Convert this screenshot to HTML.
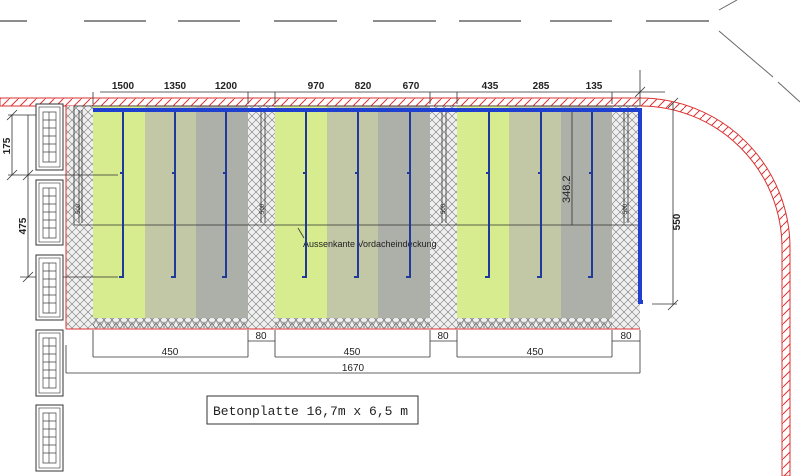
<!DOCTYPE html>
<html><head><meta charset="utf-8"><style>
html,body{margin:0;padding:0;background:#fff;width:800px;height:476px;overflow:hidden}
text{font-family:"Liberation Sans",sans-serif;fill:#222}
</style></head><body>
<svg width="800" height="476" viewBox="0 0 800 476" xmlns="http://www.w3.org/2000/svg">
<defs>
<pattern id="x" width="8" height="8" patternUnits="userSpaceOnUse">
<rect width="8" height="8" fill="#f0f0f0"/>
<path d="M0 0L8 8M8 0L0 8" stroke="#777" stroke-width="0.6"/>
</pattern>
<pattern id="rh" width="9" height="9" patternUnits="userSpaceOnUse">
<path d="M0 9L9 0" stroke="#d33" stroke-width="1"/>
</pattern>
<pattern id="zz" width="8" height="10" patternUnits="userSpaceOnUse">
<path d="M0 0L4 8L8 0M0 10L4 2L8 10" stroke="#777" stroke-width="0.6" fill="none"/>
</pattern>
</defs>
<g stroke="#666" stroke-width="1.5">
<path d="M0 21H27M84 21H146M178 21H240M274 21H337M373 21H436M459 21H521M550 21H612M646 21H709"/>
<path d="M719 10L737 0M719 31L773 77M778 82L800 102" stroke-width="1"/>
</g>
<path d="M0 98H640A150 150 0 0 1 790 248V476H782V248A142 142 0 0 0 640 106H0Z" fill="url(#rh)" stroke="#d33" stroke-width="1"/>
<rect x="66" y="106" width="574" height="223" fill="url(#x)"/>
<g>
<rect x="93" y="106" width="52" height="212" fill="#d6ec8e"/>
<rect x="145" y="106" width="51" height="212" fill="#c2c7a6"/>
<rect x="196" y="106" width="52" height="212" fill="#adafa9"/>
<rect x="275" y="106" width="52" height="212" fill="#d6ec8e"/>
<rect x="327" y="106" width="51" height="212" fill="#c2c7a6"/>
<rect x="378" y="106" width="52" height="212" fill="#adafa9"/>
<rect x="457" y="106" width="52" height="212" fill="#d6ec8e"/>
<rect x="509" y="106" width="52" height="212" fill="#c2c7a6"/>
<rect x="561" y="106" width="51" height="212" fill="#adafa9"/>
</g>
<rect x="93" y="318" width="155" height="10" fill="url(#zz)"/>
<rect x="275" y="318" width="155" height="10" fill="url(#zz)"/>
<rect x="457" y="318" width="155" height="10" fill="url(#zz)"/>
<path d="M66 329H640M66 106V329" stroke="#d33" stroke-width="1" fill="none"/>
<g stroke="#333" stroke-width="0.8" fill="none">
<path d="M74 106V225H640M74 106H640"/>
<path d="M79 110V223M82 110V223M261 110V223M265 110V223M442 110V223M446 110V223M624 110V223M628 110V223"/>
<path d="M572 110V225"/>
<path d="M298 228L304 238"/>
</g>
<g font-size="6">
<text transform="translate(80 214) rotate(-90)">500</text>
<text transform="translate(264 214) rotate(-90)">500</text>
<text transform="translate(445 214) rotate(-90)">500</text>
<text transform="translate(627 214) rotate(-90)">500</text>
</g>
<text transform="translate(570 203) rotate(-90)" font-size="11">348.2</text>
<text x="303" y="247" font-size="9">Aussenkante Vordacheindeckung</text>
<path d="M93 110H640V302H643" stroke="#1f3fd0" stroke-width="4" fill="none"/>
<g stroke="#1f3a9a" stroke-width="2" fill="none">
<path d="M123 112V277H119M120 173H123"/>
<path d="M175 112V277H171M172 173H175"/>
<path d="M226 112V277H222M223 173H226"/>
<path d="M306 112V277H302M303 173H306"/>
<path d="M358 112V277H354M355 173H358"/>
<path d="M410 112V277H406M407 173H410"/>
<path d="M489 112V277H485M486 173H489"/>
<path d="M541 112V277H537M538 173H541"/>
<path d="M592 112V277H588M589 173H592"/>
</g>
<g stroke="#333" stroke-width="0.8" fill="none">
<path d="M100 92H665M93 92V104M248 92V104M275 92V104M430 92V104M457 92V104M612 92V104M640 70V106M635 97L645 87"/>
</g>
<g font-size="10" text-anchor="middle" font-weight="bold">
<text x="123" y="89">1500</text><text x="175" y="89">1350</text><text x="226" y="89">1200</text>
<text x="316" y="89">970</text><text x="363" y="89">820</text><text x="411" y="89">670</text>
<text x="490" y="89">435</text><text x="541" y="89">285</text><text x="594" y="89">135</text>
</g>
<g stroke="#333" stroke-width="0.8" fill="none">
<path d="M673 103V305M652 304H677M668 108L678 98M668 310L678 300"/>
</g>
<text transform="translate(680 222) rotate(-90)" font-size="10" text-anchor="middle" font-weight="bold">550</text>
<g stroke="#333" stroke-width="0.8" fill="none">
<path d="M12 115V175M28 115V277M8 115H36M8 175H118M20 277H118M7 120L17 110M7 180L17 170M23 180L33 170M23 282L33 272"/>
</g>
<text transform="translate(10 146) rotate(-90)" font-size="10" text-anchor="middle" font-weight="bold">175</text>
<text transform="translate(26 226) rotate(-90)" font-size="10" text-anchor="middle" font-weight="bold">475</text>
<g stroke="#333" fill="#fff">
<g stroke-width="1">
<rect x="36" y="104" width="27" height="66"/><rect x="36" y="180" width="27" height="65"/><rect x="36" y="255" width="27" height="65"/><rect x="36" y="330" width="27" height="66"/><rect x="36" y="405" width="27" height="66"/>
</g>
<g stroke-width="0.6">
<rect x="39" y="107" width="21" height="60"/><rect x="39" y="183" width="21" height="59"/><rect x="39" y="258" width="21" height="59"/><rect x="39" y="333" width="21" height="60"/><rect x="39" y="408" width="21" height="60"/>
</g>
</g>
<g stroke="#444" stroke-width="0.7" fill="none">
<path d="M43 112h13v50h-13zM43 120h13M43 128h13M43 136h13M43 144h13M43 152h13M49 112v50"/>
<path d="M43 188h13v50h-13zM43 196h13M43 204h13M43 212h13M43 220h13M43 228h13M49 188v50"/>
<path d="M43 263h13v50h-13zM43 271h13M43 279h13M43 287h13M43 295h13M43 303h13M49 263v50"/>
<path d="M43 338h13v50h-13zM43 346h13M43 354h13M43 362h13M43 370h13M43 378h13M49 338v50"/>
<path d="M43 413h13v50h-13zM43 421h13M43 429h13M43 437h13M43 445h13M43 453h13M49 413v50"/>
</g>
<g stroke="#333" stroke-width="0.8" fill="none">
<path d="M248 330V357M275 330V357M430 330V357M457 330V357M612 330V357M640 330V373M93 330V357M66 345V373"/>
<path d="M248 341H275M430 341H457M612 341H640"/>
<path d="M93 357H248M275 357H430M457 357H612"/>
<path d="M66 373H640"/>
</g>
<g font-size="10" text-anchor="middle">
<text x="261" y="339">80</text><text x="443" y="339">80</text><text x="626" y="339">80</text>
<text x="170" y="355">450</text><text x="352" y="355">450</text><text x="535" y="355">450</text>
<text x="353" y="371">1670</text>
</g>
<rect x="207" y="396" width="211" height="28" fill="#fff" stroke="#333" stroke-width="1"/>
<text x="213" y="415" font-size="13" style="font-family:'Liberation Mono',monospace">Betonplatte 16,7m x 6,5 m</text>
</svg>
</body></html>
